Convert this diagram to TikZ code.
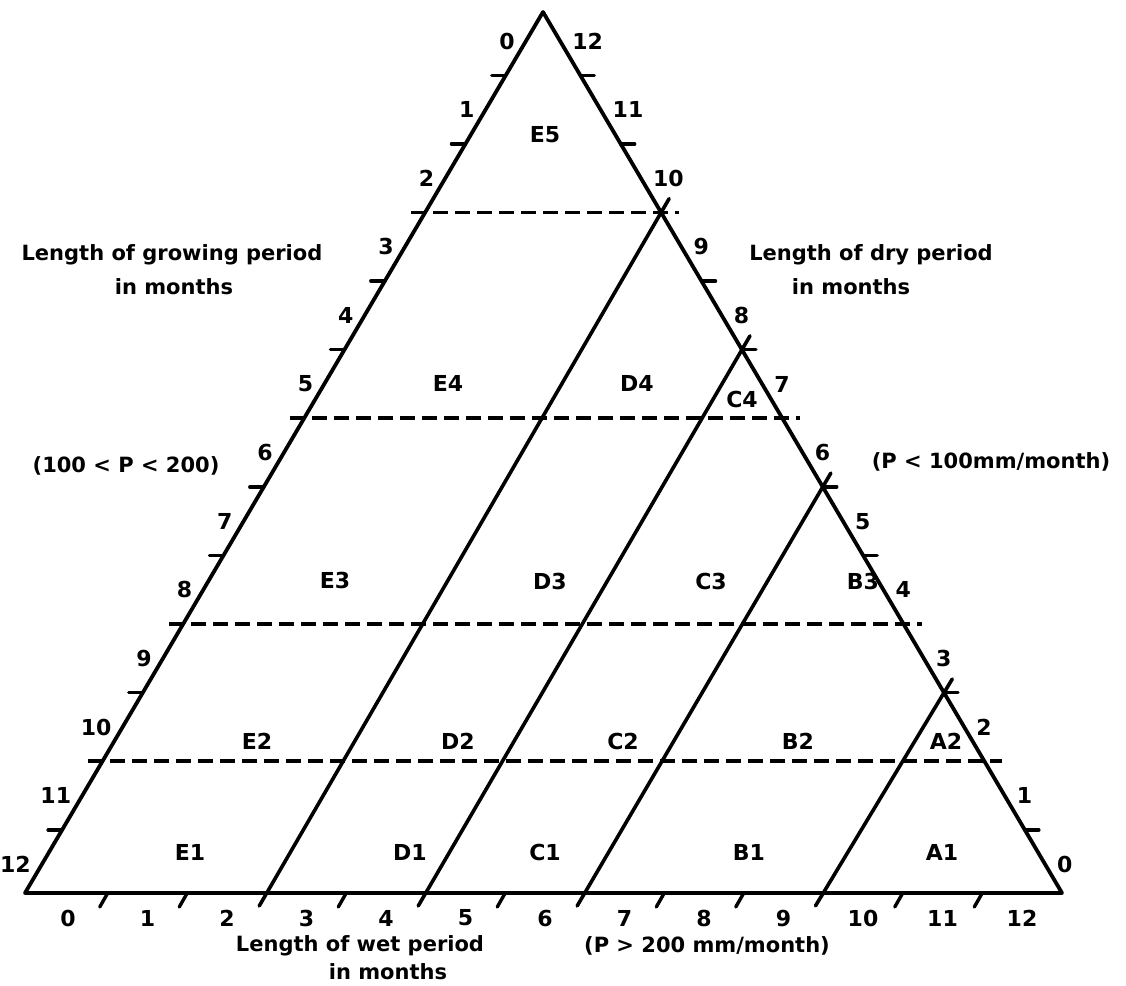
\documentclass[tikz,border=0pt]{standalone}
\usepackage{fontspec}
\setmainfont{DejaVu Sans}
\usetikzlibrary{calc,positioning}
\tikzset{
  frameline/.style={line width=3.8pt, line join=round, line cap=round},
  zoneline/.style={line width=3.6pt, line cap=round, shorten <=-16pt, shorten >=-15pt},
  rowline/.style={line width=3.8pt, dash pattern=on 15pt off 7pt, shorten <=-14pt, shorten >=-18pt},
  tickmark/.style={line width=3.4pt, line cap=round},
  zone/.style={font=\fontsize{22}{26}\selectfont\bfseries, inner sep=0pt},
  scalelbl/.style={font=\fontsize{22}{26}\selectfont\bfseries, inner sep=0pt},
  axistitle/.style={font=\fontsize{21}{25}\selectfont\bfseries, inner sep=0pt, align=center}
}

\begin{document}
\begin{tikzpicture}[x=1pt, y=-1pt]
  \fill[white] (0,0) rectangle (1126,985);
  \useasboundingbox (0,0) rectangle (1126,985);

  % corners of the triangle
  \coordinate (apex) at (543,12);
  \coordinate (bl) at (25,893);
  \coordinate (br) at (1062,893);

  % half-month points on the three scales
  \foreach \k in {0,...,24}{
    \pgfmathsetmacro\t{(29+34.3*\k)/881}
    \pgfmathsetmacro\s{(43+39.75*\k)/1037}
    \coordinate (L\k) at ($(apex)!\t!(bl)$);
    \coordinate (R\k) at ($(apex)!\t!(br)$);
    \coordinate (W\k) at ($(bl)!\s!(br)$);
  }

  \draw[frameline] (bl) -- (apex) -- (br) -- cycle;

  % zone boundaries
  \foreach \k in {5,11,17,21}
    \draw[rowline] (L\k) -- (R\k);
  \foreach \k in {5,9,13,19}
    \draw[zoneline] (R\k) -- (W\k);

  % ticks
  \foreach \k in {1,3,7,9,13,15,19,23}{
    \draw[tickmark] (L\k) -- ++(-14,0);
    \draw[tickmark] (R\k) -- ++(14,0);
  }
  \foreach \k in {1,3,7,11,15,17,21,23}
    \draw[tickmark] (W\k) -- ++(-8,14);

  % scale numbers
  \foreach \n [evaluate=\n as \k using int(2*\n), evaluate=\n as \d using int(12-\n)] in {0,...,12}{
    \node[scalelbl, anchor=east, xshift=-11pt] (grow\n) at (L\k) {\n};
    \node[scalelbl, anchor=west, xshift=12pt] (dry\n) at (R\k) {\d};
    \node[scalelbl, yshift=-25pt] (wet\n) at (W\k) {\n};
  }

  % zones
  \node[zone] (e5) at (545,135) {E5};
  \node[zone] (e4) at (448,383) {E4};
  \node[zone] (d4) at (637,383) {D4};
  \node[zone] (c4) at (742,399) {C4};
  \node[zone] (e3) at (335,580) {E3};
  \node[zone] (d3) at (550,581) {D3};
  \node[zone] (c3) at (711,581) {C3};
  \node[zone] (b3) at (863,581) {B3};
  \node[zone] (e2) at (257,741) {E2};
  \node[zone] (d2) at (458,741) {D2};
  \node[zone] (c2) at (623,741) {C2};
  \node[zone] (b2) at (798,741) {B2};
  \node[zone] (a2) at (946,741) {A2};
  \node[zone] (e1) at (190,852) {E1};
  \node[zone] (d1) at (410,852) {D1};
  \node[zone] (c1) at (545,852) {C1};
  \node[zone] (b1) at (749,852) {B1};
  \node[zone] (a1) at (942,852) {A1};

  % axis titles
  \node[axistitle] (growtitle) at (172,255) {Length of growing period};
  \node[axistitle] (growunit) at (174,287) {in months};
  \node[axistitle] (growrange) at (126,466) {(100 < P < 200)};
  \node[axistitle] (drytitle) at (871,255) {Length of dry period};
  \node[axistitle] (dryunit) at (851,287) {in months};
  \node[axistitle] (dryrange) at (991,462) {(P < 100mm/month)};
  \node[axistitle] (wettitle) at (360,946) {Length of wet period};
  \node[axistitle] (wetunit) at (388,972) {in months};
  \node[axistitle] (wetrange) at (707,946) {(P > 200 mm/month)};
\end{tikzpicture}
\end{document}
